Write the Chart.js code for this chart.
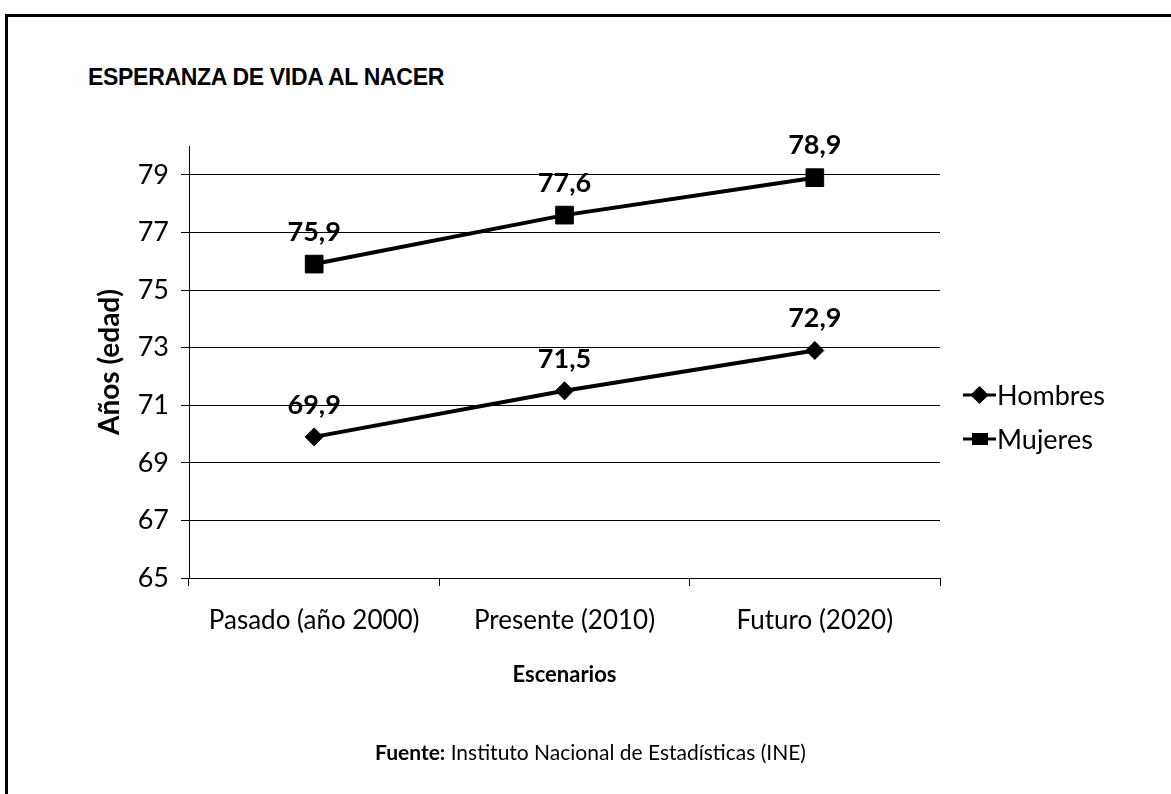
<!DOCTYPE html>
<html>
<head>
<meta charset="utf-8">
<script src="https://cdn.jsdelivr.net/npm/chart.js@4.4.0/dist/chart.umd.min.js"></script>
<style>
  html, body { margin: 0; padding: 0; background: #fff; }
  #wrap { position: relative; width: 1171px; height: 794px; overflow: hidden; }
  #frame { position: absolute; left: 5px; top: 14px; width: 1300px; height: 900px;
           border-top: 3px solid #000; border-left: 3px solid #000; }
  #title { position: absolute; left: 88px; top: 64px; font: bold 23px "Liberation Sans", Arial, sans-serif;
           color: #000; letter-spacing: -0.3px; }
  #source { position: absolute; left: 0; width: 1171px; top: 739px; text-align: center;
            font: 21px Lato, sans-serif; color: #000; padding-left: 10px; box-sizing: border-box; }
  #source b { font-weight: bold; }
  canvas { position: absolute; left: 0; top: 0; }
</style>
</head>
<body>
<div id="wrap">
  <div id="frame"></div>
  <div id="title">ESPERANZA DE VIDA AL NACER</div>
  <canvas id="chart" width="1171" height="794"></canvas>
  <div id="source"><b>Fuente:</b> Instituto Nacional de Estadísticas (INE)</div>
</div>
<script>
// ===== DATA =====
const categories = ['Pasado (año 2000)', 'Presente (2010)', 'Futuro (2020)'];
const hombres = [69.9, 71.5, 72.9];
const mujeres = [75.9, 77.6, 78.9];
const yTicks = [65, 67, 69, 71, 73, 75, 77, 79];

const font = 'Lato, sans-serif';

// data labels above points + legend at the right
const labelsAndLegend = {
  id: 'labelsAndLegend',
  afterDatasetsDraw(chart) {
    const ctx = chart.ctx;
    ctx.save();
    ctx.fillStyle = '#000';
    ctx.textAlign = 'center';
    ctx.textBaseline = 'middle';
    ctx.font = 'bold 27px ' + font;
    chart.data.datasets.forEach(function(ds, i) {
      chart.getDatasetMeta(i).data.forEach(function(pt, j) {
        ctx.fillText(ds.data[j].toFixed(1).replace('.', ','), pt.x, pt.y - 32);
      });
    });

    // legend: line with a small marker, then the name
    const area = chart.chartArea;
    let y = 395;
    chart.data.datasets.forEach(function(ds) {
      const x0 = area.right + 23;
      ctx.strokeStyle = '#000';
      ctx.lineWidth = 3;
      ctx.beginPath();
      ctx.moveTo(x0, y);
      ctx.lineTo(x0 + 33, y);
      ctx.stroke();
      if (ds.pointStyle === 'rect') {
        ctx.fillRect(x0 + 9, y - 6, 16, 12);
      } else {
        Chart.helpers.drawPoint(ctx, { pointStyle: ds.pointStyle, radius: 7, rotation: 0, borderWidth: 1 }, x0 + 16.5, y);
      }
      ctx.textAlign = 'left';
      ctx.font = '27px ' + font;
      ctx.fillText(ds.label, x0 + 34, y + 1);
      y += 44;
    });
    ctx.restore();
  }
};

new Chart(document.getElementById('chart'), {
  type: 'line',
  data: {
    labels: categories,
    datasets: [
      {
        label: 'Hombres',
        data: hombres,
        borderColor: '#000',
        backgroundColor: '#000',
        borderWidth: 4,
        pointStyle: 'rectRot',
        pointRadius: 9,
        pointBorderWidth: 1
      },
      {
        label: 'Mujeres',
        data: mujeres,
        borderColor: '#000',
        backgroundColor: '#000',
        borderWidth: 4,
        pointStyle: 'rect',
        pointRadius: 12.5,
        pointBorderWidth: 1
      }
    ]
  },
  options: {
    responsive: false,
    animation: false,
    layout: { padding: { left: 93, right: 231, top: 146, bottom: 106 } },
    plugins: {
      legend: { display: false },
      tooltip: { enabled: false }
    },
    scales: {
      x: {
        offset: true,
        grid: { offset: true, drawOnChartArea: false, drawTicks: true, tickLength: 8, color: '#000', lineWidth: 1 },
        border: { color: '#000', width: 1 },
        ticks: { color: '#000', font: { family: font, size: 26 }, padding: 19, maxRotation: 0 },
        title: { display: true, text: 'Escenarios', color: '#000', font: { family: font, size: 22, weight: 'bold' }, padding: 0 },
        afterFit(scale) { scale.height = 110; }
      },
      y: {
        min: 65,
        max: 80,
        afterBuildTicks(scale) { scale.ticks = yTicks.map(function(v) { return { value: v }; }); },
        grid: { color: '#000', lineWidth: 1, tickLength: 8 },
        border: { color: '#000', width: 1 },
        ticks: { color: '#000', font: { family: font, size: 27 }, padding: 12 },
        title: { display: true, text: 'Años (edad)', color: '#000', font: { family: font, size: 28, weight: 'bold' }, padding: 0 },
        afterFit(scale) { scale.width = 96; }
      }
    }
  },
  plugins: [labelsAndLegend]
});
</script>
</body>
</html>
